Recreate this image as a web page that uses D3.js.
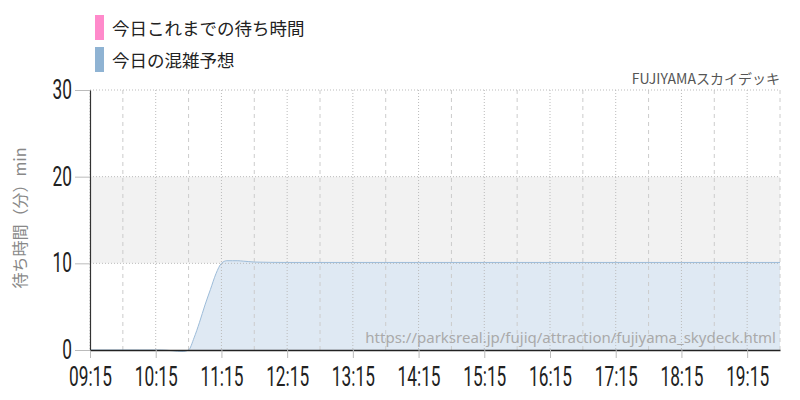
<!DOCTYPE html>
<html><head><meta charset="utf-8">
<script src="https://cdn.jsdelivr.net/npm/d3@7"></script>
<style>body{margin:0;background:#fff}svg{display:block}</style>
</head><body>
<svg id="c" width="800" height="400"></svg>
<script>
const title = "FUJIYAMAスカイデッキ";
const legendLabels = ["今日これまでの待ち時間", "今日の混雑予想"];
const legendColors = ["#ff8acb", "#8fb3d3"];
const yLabel = "待ち時間（分）min";
const watermark = "https://parksreal.jp/fujiq/attraction/fujiyama_skydeck.html";
const yTicks = [0, 10, 20, 30];
const xTickLabels = ["09:15","10:15","11:15","12:15","13:15","14:15","15:15","16:15","17:15","18:15","19:15"];
const forecastTimes = ["09:15","10:00","10:15","10:20","10:25","10:30","10:35","10:40","10:45","10:50","10:55","11:00","11:05","11:10","11:15","11:20","11:25","11:30","11:35","11:40","11:45","12:15","13:15","14:15","15:15","16:15","17:15","18:15","19:15","19:45"];
const forecastValues = [0,0,0,0,-0.03,-0.08,-0.15,-0.17,0,1.4,3.2,5.2,7.0,8.8,10.0,10.3,10.3,10.3,10.25,10.2,10.15,10.1,10.1,10.1,10.1,10.1,10.1,10.1,10.1,10.1];
const actualTimes = [];
const actualValues = [];

const parse = d3.timeParse("%H:%M");
const svg = d3.select("#c");
const m = {l:90, r:780, t:90, b:350};
const x = d3.scaleTime().domain([parse("09:15"), parse("19:45")]).range([m.l, m.r]);
const y = d3.scaleLinear().domain([0,30]).range([m.b, m.t]);
const numFont = "Roboto,'Liberation Sans',sans-serif";
const jpFont = "'Noto Sans CJK JP','Noto Sans',sans-serif";
const sx = 0.64;

// band 10-20
svg.append("rect").attr("x", m.l).attr("width", m.r - m.l)
  .attr("y", y(20)).attr("height", y(10) - y(20)).attr("fill", "#f2f2f2");

// forecast area
const fdata = forecastTimes.map((t,i)=>({t:parse(t), v:forecastValues[i]}));
svg.append("path").datum(fdata)
  .attr("d", d3.area().x(d=>x(d.t)).y0(y(0)).y1(d=>y(d.v)).curve(d3.curveMonotoneX))
  .attr("fill", "#dfe9f3");

// vertical grid
const hourTicks = xTickLabels.map(parse);
const halfTicks = xTickLabels.map(t=>d3.timeMinute.offset(parse(t), 30));
svg.append("g").selectAll("line").data(hourTicks).join("line")
  .attr("x1", d=>x(d)).attr("x2", d=>x(d)).attr("y1", m.t).attr("y2", m.b)
  .attr("stroke", "#bbb").attr("stroke-dasharray", "1,2").attr("stroke-width", 1);
svg.append("g").selectAll("line").data(halfTicks).join("line")
  .attr("x1", d=>x(d)).attr("x2", d=>x(d)).attr("y1", m.t).attr("y2", m.b)
  .attr("stroke", "#ccc").attr("stroke-dasharray", "4,4").attr("stroke-width", 1);
// horizontal grid
svg.append("g").selectAll("line").data(yTicks.filter(v=>v>0)).join("line")
  .attr("x1", m.l).attr("x2", m.r).attr("y1", d=>y(d)).attr("y2", d=>y(d))
  .attr("stroke", "#bbb").attr("stroke-dasharray", "1,2");

// forecast line
svg.append("path").datum(fdata)
  .attr("d", d3.line().x(d=>x(d.t)).y(d=>y(d.v)).curve(d3.curveMonotoneX))
  .attr("fill", "none").attr("stroke", "#9dbcd9").attr("stroke-width", 1);

// actual line (none so far)
if (actualTimes.length) {
  svg.append("path").datum(actualTimes.map((t,i)=>({t:parse(t), v:actualValues[i]})))
    .attr("d", d3.line().x(d=>x(d.t)).y(d=>y(d.v)))
    .attr("fill","none").attr("stroke", legendColors[0]).attr("stroke-width", 2);
}

// watermark
svg.append("text").attr("x", 776).attr("y", 343).attr("text-anchor","end")
  .attr("font-family", "'Noto Sans','Open Sans',sans-serif").attr("font-size", 15)
  .attr("fill", "#aaa").text(watermark);

// axes
const xAxis = d3.axisBottom(x).tickValues(hourTicks).tickFormat((d,i)=>xTickLabels[i]).tickSize(8).tickSizeOuter(0);
const gx = svg.append("g").attr("transform", `translate(0,${m.b})`).call(xAxis);
gx.select(".domain").attr("stroke", "#222").attr("stroke-width", 1.5);
gx.selectAll(".tick line").attr("stroke", "#bbb");
gx.selectAll(".tick text").attr("font-family", numFont).attr("font-size", 27).attr("fill", "#222")
  .attr("dy", "0.71em").attr("y", 17).attr("transform", `scale(${sx},1)`);

const yAxis = d3.axisLeft(y).tickValues(yTicks).tickSize(15).tickSizeOuter(0);
const gy = svg.append("g").attr("transform", `translate(${m.l},0)`).call(yAxis);
gy.select(".domain").attr("stroke", "#333").attr("stroke-width", 1.2);
gy.selectAll(".tick line").attr("stroke", "#bbb");
gy.selectAll(".tick text").attr("font-family", numFont).attr("font-size", 27).attr("fill", "#222")
  .attr("x", -18 / sx).attr("transform", `scale(${sx},1)`);

// y label
svg.append("text").attr("transform", "translate(26,218) rotate(-90)").attr("text-anchor","middle")
  .attr("font-family", jpFont).attr("font-size", 16).attr("fill", "#888").text(yLabel);

// title
svg.append("text").attr("x", 780).attr("y", 84).attr("text-anchor","end")
  .attr("font-family", jpFont).attr("font-size", 14).attr("fill", "#555").text(title);

// legend
const lg = svg.append("g").selectAll("g").data(legendLabels).join("g")
  .attr("transform", (d,i)=>`translate(95,${15 + i*32})`);
lg.append("rect").attr("width", 9).attr("height", 25).attr("fill", (d,i)=>legendColors[i]);
lg.append("text").attr("x", 17).attr("y", 20).attr("font-family", jpFont).attr("font-size", 17.5)
  .attr("fill", "#222").text(d=>d);
</script>
</body></html>
